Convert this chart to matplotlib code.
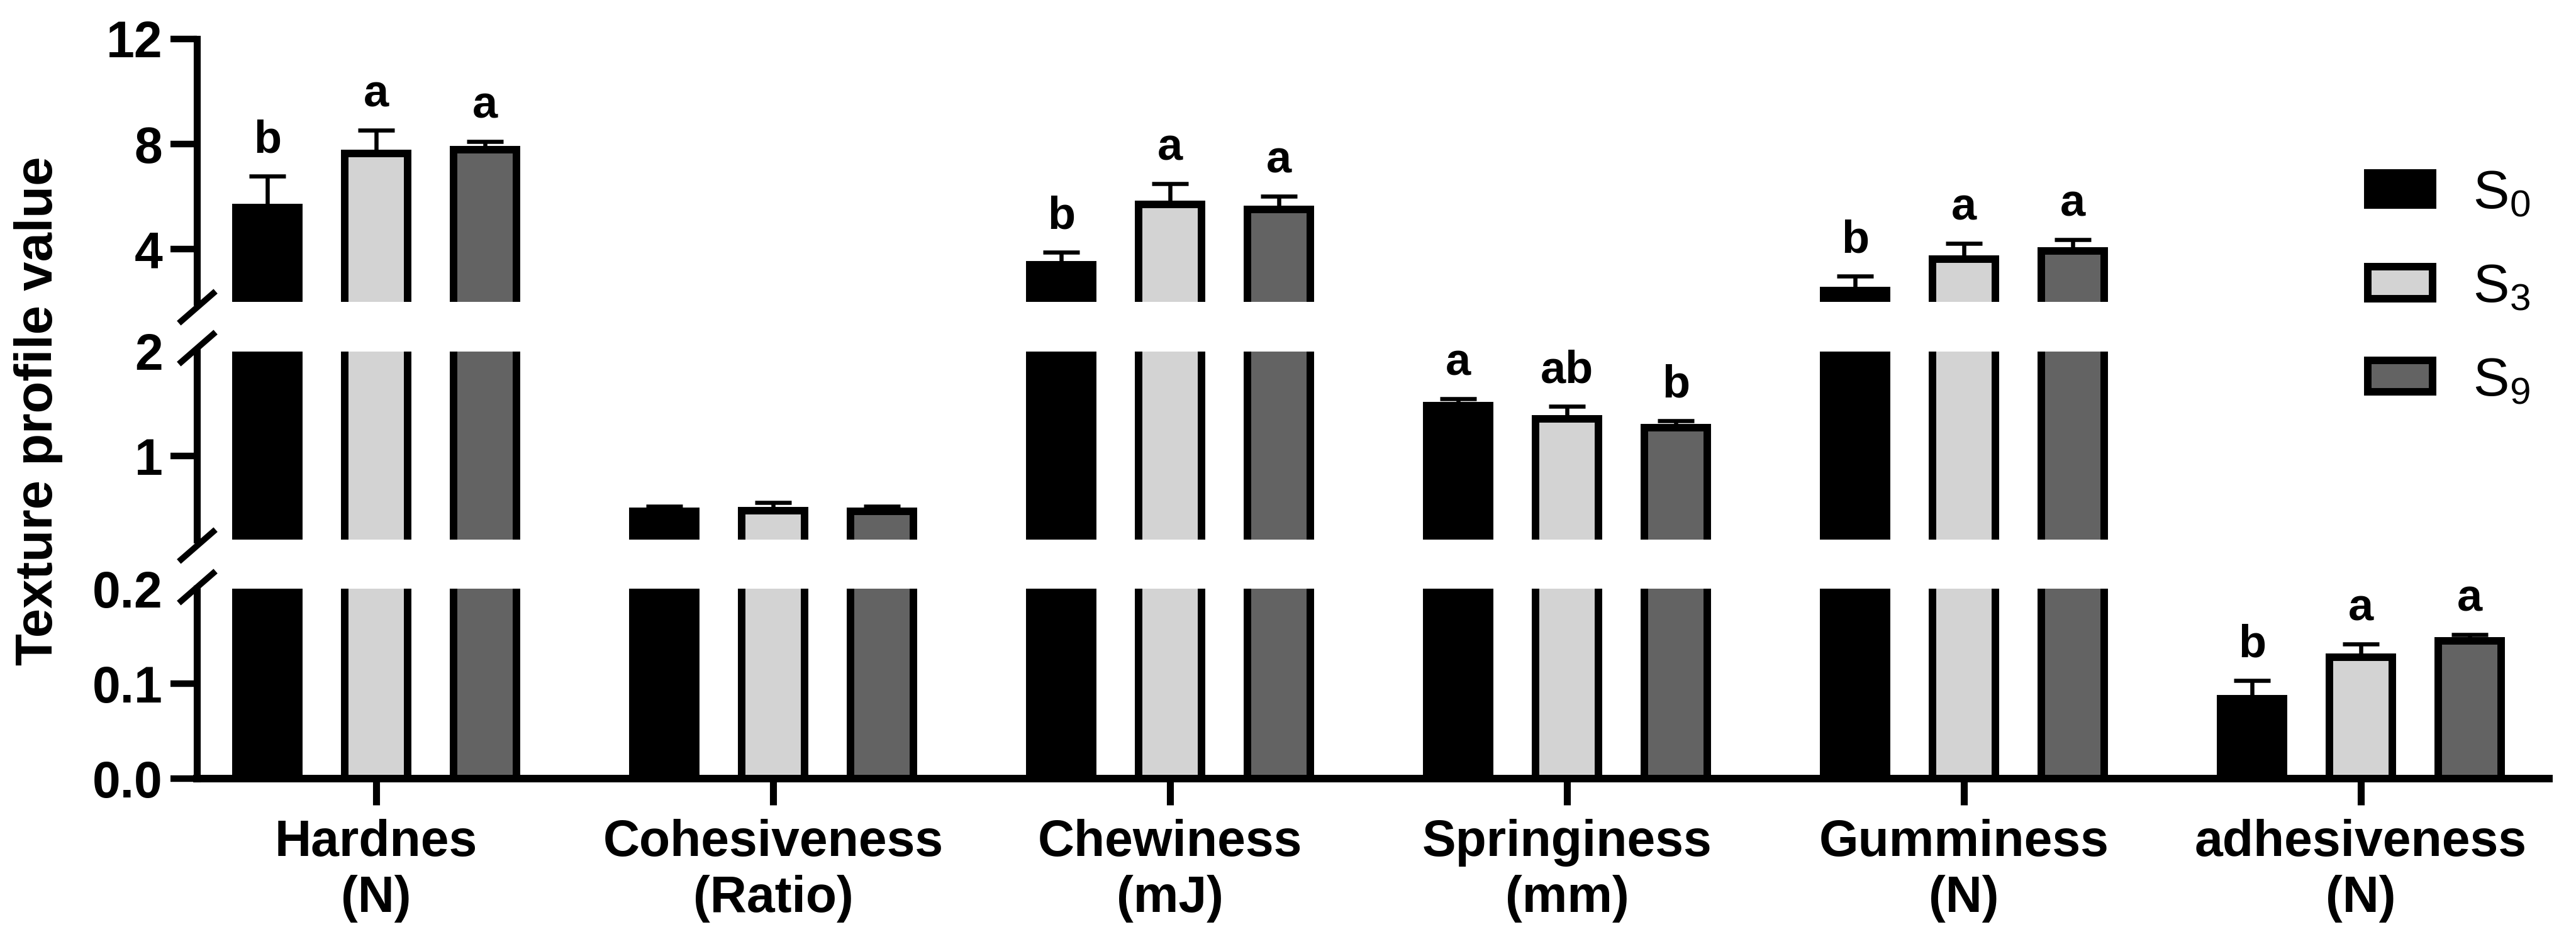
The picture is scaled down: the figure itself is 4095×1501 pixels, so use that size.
import numpy as np
import matplotlib
matplotlib.use('Agg')
import matplotlib.pyplot as plt
from matplotlib.patches import Patch
from matplotlib.transforms import ScaledTranslation

plt.rcParams['font.family'] = ['Liberation Sans', 'DejaVu Sans']
plt.rcParams['mathtext.fontset'] = 'custom'
plt.rcParams['mathtext.rm'] = 'Liberation Sans:weight=normal'
plt.rcParams['mathtext.it'] = 'Liberation Sans:italic'
plt.rcParams['mathtext.bf'] = 'Liberation Sans:bold'

# ---------------- data ----------------
categories = ['Hardnes\n(N)', 'Cohesiveness\n(Ratio)', 'Chewiness\n(mJ)',
              'Springiness\n(mm)', 'Gumminess\n(N)', 'adhesiveness\n(N)']
series_labels = ['S$_0$', 'S$_3$', 'S$_9$']

s0_mean = [5.58, 0.47, 3.40, 1.48, 2.42, 0.084]
s0_err = [1.20, 0.05, 0.50, 0.07, 0.56, 0.019]
s3_mean = [7.65, 0.476, 5.70, 1.355, 3.62, 0.128]
s3_err = [0.88, 0.08, 0.80, 0.12, 0.60, 0.014]
s9_mean = [7.78, 0.47, 5.52, 1.27, 3.95, 0.145]
s9_err = [0.32, 0.05, 0.50, 0.065, 0.42, 0.007]

s0_letters = ['b', '', 'b', 'a', 'b', 'b']
s3_letters = ['a', '', 'a', 'ab', 'a', 'a']
s9_letters = ['a', '', 'a', 'b', 'a', 'a']

colors = ['#000000', '#d3d3d3', '#636363']

# y-axis segments (bottom, middle, top)
seg_limits = [(0.0, 0.2), (0.2, 2.0), (2.0, 12.0)]
seg_ticks = [[0.0, 0.1, 0.2], [1, 2], [4, 8, 12]]
seg_ticklabels = [['0.0', '0.1', '0.2'], ['1', '2'], ['4', '8', '12']]

# ---------------- figure ----------------
fig = plt.figure(figsize=(40.95, 15.01), dpi=100)
L, W = 0.0764, 0.9131
ax_bot = fig.add_axes([L, 0.1752, W, 0.2012])
ax_mid = fig.add_axes([L, 0.4284, W, 0.1992])
ax_top = fig.add_axes([L, 0.6802, W, 0.2785])
axes = [ax_bot, ax_mid, ax_top]

x = np.arange(len(categories))
offsets = [-0.274, 0.0, 0.274]
width = 0.158
means = [s0_mean, s3_mean, s9_mean]
errs = [s0_err, s3_err, s9_err]
letters = [s0_letters, s3_letters, s9_letters]

EDGE = 8.6
for ax, lim, tks, tkl in zip(axes, seg_limits, seg_ticks, seg_ticklabels):
    for k in range(3):
        ax.bar(x + offsets[k], means[k], width, color=colors[k], edgecolor='black',
               linewidth=EDGE, zorder=2)
        ax.errorbar(x + offsets[k], means[k],
                    yerr=[np.zeros(len(x)), np.array(errs[k])],
                    fmt='none', ecolor='black', elinewidth=4.7, capsize=20.6,
                    capthick=4.7, zorder=3)
    ax.set_ylim(*lim)
    ax.set_xlim(-0.452, 5.474)
    ax.spines['top'].set_visible(False)
    ax.spines['right'].set_visible(False)
    ax.spines['left'].set_linewidth(8)
    ax.spines['bottom'].set_linewidth(8.6)
    ax.set_yticks(tks, tkl, fontsize=58, fontweight='bold')
    ax.tick_params(axis='y', direction='out', length=30, width=7.5, pad=9)
    ax.patch.set_visible(False)

for ax in (ax_mid, ax_top):
    ax.spines['bottom'].set_visible(False)
    ax.set_xticks([])

# hide tick line at the top label of lower segments (covered by break)
for ax in (ax_bot, ax_mid):
    ax.yaxis.get_major_ticks()[-1].tick1line.set_visible(False)

ax_bot.set_xticks(x, categories, fontsize=58, fontweight='bold', linespacing=1.22)
ax_bot.tick_params(axis='x', direction='out', length=30, width=8, pad=16)

# significance letters
for k in range(3):
    for i in range(len(x)):
        lt = letters[k][i]
        if not lt:
            continue
        top = means[k][i] + errs[k][i]
        for ax, (lo, hi) in zip(axes, seg_limits):
            if lo <= top <= hi:
                ax.annotate(lt, xy=(x[i] + offsets[k], top), xytext=(0, 27),
                            textcoords='offset points', ha='center', va='baseline',
                            fontsize=52, fontweight='bold', annotation_clip=False)
                break

# break marks
def brk(ax, yfrac, dy_px):
    tr = ax.transAxes + ScaledTranslation(0, dy_px / 100.0, fig.dpi_scale_trans)
    ax.plot([0], [yfrac], transform=tr, marker=[(-1, -0.87), (1, 0.87)],
            markersize=42, linestyle='none', color='k', mec='k', mew=7,
            clip_on=False, zorder=5)

brk(ax_top, 0, -8)
brk(ax_mid, 1, 6)
brk(ax_mid, 0, -9)
brk(ax_bot, 1, 3)

fig.text(0.0149, 0.565, 'Texture profile value', rotation=90, ha='center',
         va='center', fontsize=60, fontweight='bold')

handles = [Patch(facecolor=c, edgecolor='black', linewidth=EDGE) for c in colors]
fig.legend(handles, series_labels, loc='center left', bbox_to_anchor=(0.9192, 0.6949),
           frameon=False, prop={'family': 'Liberation Sans', 'weight': 'normal', 'size': 62},
           handlelength=1.19, handleheight=0.52, handletextpad=0.75, labelspacing=0.8,
           borderpad=0, borderaxespad=0)

fig.savefig('out.png', dpi=100)
